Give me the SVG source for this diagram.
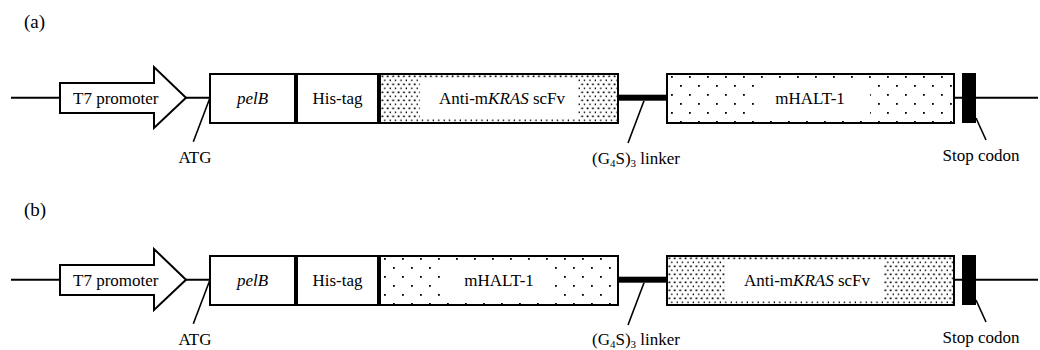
<svg xmlns="http://www.w3.org/2000/svg" width="1040" height="350" viewBox="0 0 1040 350">
<style>
text{font-family:"Liberation Serif","Times New Roman",serif;font-size:17px;fill:#000}
.mid{text-anchor:middle}
.box{fill:none;stroke:#000;stroke-width:2}
.bg{fill:#fff}
.line{stroke:#000;stroke-width:2;fill:none}
.lead{stroke:#000;stroke-width:1.6;fill:none}
.blk{fill:#000}
</style>
<defs>
<pattern id="dense" patternUnits="userSpaceOnUse" width="5.4" height="8">
<rect x="1.5" y="1.5" width="1.7" height="1.7" fill="#000"/>
<rect x="4.2" y="5.5" width="1.7" height="1.7" fill="#000"/>
</pattern>
<pattern id="sparse" patternUnits="userSpaceOnUse" width="18" height="18">
<rect x="4" y="2" width="1.8" height="1.8" fill="#000"/>
<rect x="13" y="11" width="1.8" height="1.8" fill="#000"/>
</pattern>
</defs>

<text x="24" y="28" style="font-size:19px">(a)</text>
<text x="24" y="216" style="font-size:19px">(b)</text>

<g id="connectors">
<line class="line" x1="11" y1="97.7" x2="1038" y2="97.7"/>
<line class="line" x1="11" y1="279.7" x2="1038" y2="279.7"/>
<rect id="linker-a" class="blk" x="618" y="94.7" width="49" height="6"/>
<rect id="linker-b" class="blk" x="618" y="276.7" width="49" height="6"/>
<line class="lead" x1="210" y1="97.7" x2="193.3" y2="141.7"/>
<line class="lead" x1="644" y1="100.7" x2="628" y2="143"/>
<line class="lead" x1="976" y1="118" x2="986" y2="140"/>
<line class="lead" x1="210" y1="279.7" x2="193.3" y2="323.7"/>
<line class="lead" x1="644" y1="282.7" x2="628" y2="325"/>
<line class="lead" x1="976" y1="300" x2="986" y2="322"/>
</g>

<!-- Row (a) -->
<g id="a-promoter">
<polygon points="60,83 154,83 154,67 186,97.7 154,128 154,113 60,113" fill="#fff" stroke="#000" stroke-width="2"/>
<text x="73" y="104">T7 promoter</text>
</g>
<g id="a-pelB" transform="translate(210,74)">
<rect class="bg" width="85" height="49"/><rect class="box" width="85" height="49"/>
<text class="mid" x="42.5" y="30" font-style="italic">pelB</text>
</g>
<g id="a-histag" transform="translate(297,74)">
<rect class="bg" width="81" height="49"/><rect class="box" width="81" height="49"/>
<text class="mid" x="40.5" y="30">His-tag</text>
</g>
<g id="a-scfv" transform="translate(380,74)">
<rect class="bg" width="238" height="49"/>
<rect fill="url(#dense)" width="238" height="49"/>
<rect class="bg" x="40" y="4.5" width="158" height="40"/>
<rect class="box" width="238" height="49"/>
<text class="mid" x="122" y="30">Anti-m<tspan font-style="italic">KRAS</tspan> scFv</text>
</g>
<g id="a-mhalt" transform="translate(667,74)">
<rect class="bg" width="287" height="49"/>
<rect fill="url(#sparse)" width="287" height="49"/>
<rect class="bg" x="93" y="5" width="110" height="39"/>
<rect class="box" width="287" height="49"/>
<text class="mid" x="143" y="30">mHALT-1</text>
</g>
<g id="a-stop">
<rect class="blk" x="962" y="73" width="14" height="50"/>
</g>
<g id="a-labels">
<text class="mid" x="195" y="163">ATG</text>
<text class="mid" x="636" y="164">(G<tspan font-size="11" dy="3">4</tspan><tspan dy="-3">S)</tspan><tspan font-size="11" dy="3">3</tspan><tspan dy="-3"> linker</tspan></text>
<text class="mid" x="981" y="161">Stop codon</text>
</g>

<!-- Row (b) -->
<g id="b-promoter">
<polygon points="60,265 154,265 154,249 186,279.7 154,310 154,295 60,295" fill="#fff" stroke="#000" stroke-width="2"/>
<text x="73" y="286">T7 promoter</text>
</g>
<g id="b-pelB" transform="translate(210,256)">
<rect class="bg" width="85" height="49"/><rect class="box" width="85" height="49"/>
<text class="mid" x="42.5" y="30" font-style="italic">pelB</text>
</g>
<g id="b-histag" transform="translate(297,256)">
<rect class="bg" width="81" height="49"/><rect class="box" width="81" height="49"/>
<text class="mid" x="40.5" y="30">His-tag</text>
</g>
<g id="b-mhalt" transform="translate(380,256)">
<rect class="bg" width="238" height="49"/>
<rect fill="url(#sparse)" width="238" height="49"/>
<rect class="bg" x="63" y="5" width="112" height="39"/>
<rect class="box" width="238" height="49"/>
<text class="mid" x="119" y="30">mHALT-1</text>
</g>
<g id="b-scfv" transform="translate(667,256)">
<rect class="bg" width="287" height="49"/>
<rect fill="url(#dense)" width="287" height="49"/>
<rect class="bg" x="58" y="4.5" width="158" height="40"/>
<rect class="box" width="287" height="49"/>
<text class="mid" x="140" y="30">Anti-m<tspan font-style="italic">KRAS</tspan> scFv</text>
</g>
<g id="b-stop">
<rect class="blk" x="962" y="255" width="14" height="50"/>
</g>
<g id="b-labels">
<text class="mid" x="195" y="345">ATG</text>
<text class="mid" x="636" y="345">(G<tspan font-size="11" dy="3">4</tspan><tspan dy="-3">S)</tspan><tspan font-size="11" dy="3">3</tspan><tspan dy="-3"> linker</tspan></text>
<text class="mid" x="981" y="343">Stop codon</text>
</g>
</svg>
